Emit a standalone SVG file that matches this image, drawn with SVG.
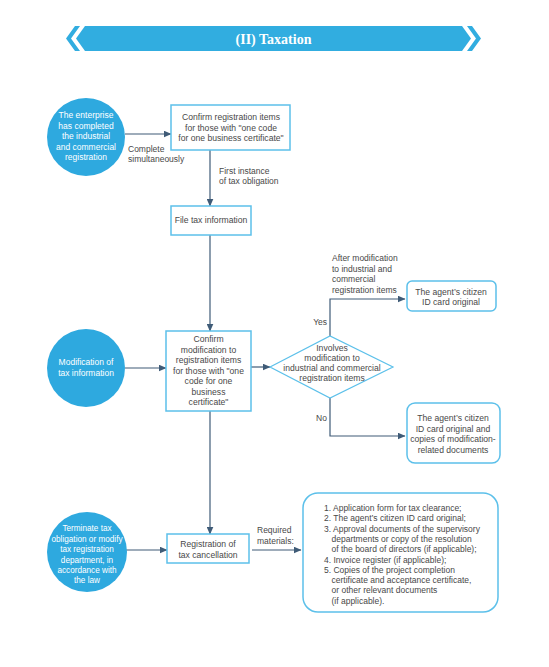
<svg xmlns="http://www.w3.org/2000/svg" width="549" height="667" viewBox="0 0 549 667">
<defs>
<marker id="arr" markerUnits="userSpaceOnUse" markerWidth="8" markerHeight="7" refX="7.5" refY="3.5" orient="auto">
<path d="M0,0 L8,3.5 L0,7 z" fill="#3f5b77"/>
</marker>
<style>
.t{font-family:"Liberation Sans",Arial,sans-serif;font-size:8.6px;fill:#484848;text-anchor:middle}
.tl{font-family:"Liberation Sans",Arial,sans-serif;font-size:8.5px;fill:#484848}
.w{font-family:"Liberation Sans",Arial,sans-serif;font-size:8.5px;fill:#fff;text-anchor:middle}
.circ{fill:#2ea9df}
.box{fill:#fff;stroke:#5cc0ea;stroke-width:1.5}
.c{fill:none;stroke:#3f5b77;stroke-width:1.2;marker-end:url(#arr)}
</style>
</defs>
<rect width="549" height="667" fill="#fff"/>
<g id="banner">
<polygon points="75,26 80,26 71,38.5 80,51 75,51 66,38.5" fill="#31ade0"/>
<polygon points="85,26 462,26 471,38.5 462,51 85,51 76,38.5" fill="#31ade0"/>
<polygon points="472,26 467,26 476,38.5 467,51 472,51 481,38.5" fill="#31ade0"/>
<text x="273.5" y="43.5" font-family="Liberation Serif,serif" font-size="14" font-weight="bold" fill="#fff" text-anchor="middle">(II) Taxation</text>
</g>
<g id="connectors">
<line class="c" x1="125" y1="134" x2="171" y2="134"/>
<line class="c" x1="210" y1="150" x2="210" y2="206"/>
<line class="c" x1="210" y1="235" x2="210" y2="331"/>
<line class="c" x1="125" y1="368" x2="166" y2="368"/>
<line class="c" x1="251" y1="367" x2="270" y2="367"/>
<path class="c" d="M330,336 V299 H405"/>
<path class="c" d="M330,398 V436 H405"/>
<line class="c" x1="210" y1="411" x2="210" y2="534"/>
<line class="c" x1="126" y1="550" x2="167" y2="550"/>
<line class="c" x1="252" y1="550" x2="301" y2="550" stroke-width="1.8"/>
<text class="tl" x="128" y="152">Complete</text>
<text class="tl" x="128" y="162">simultaneously</text>
<text class="tl" x="219" y="174">First instance</text>
<text class="tl" x="219" y="184">of tax obligation</text>
<text class="tl" x="332" y="261">After modification</text>
<text class="tl" x="332" y="271.5">to industrial and</text>
<text class="tl" x="332" y="282">commercial</text>
<text class="tl" x="332" y="292.5">registration items</text>
<text class="tl" x="327" y="325" text-anchor="end">Yes</text>
<text class="tl" x="316" y="421">No</text>
<text class="tl" x="257" y="533">Required</text>
<text class="tl" x="257" y="544">materials:</text>
</g>
<g id="n1">
<circle class="circ" cx="86" cy="137" r="39"/>
<text class="w" x="86" y="118">The enterprise</text>
<text class="w" x="86" y="128.5">has completed</text>
<text class="w" x="86" y="139">the industrial</text>
<text class="w" x="86" y="149.5">and commercial</text>
<text class="w" x="86" y="160">registration</text>
</g>
<g id="n2">
<rect class="box" x="171" y="105" width="119" height="45"/>
<text class="t" x="231" y="120">Confirm registration items</text>
<text class="t" x="231" y="130.5">for those with "one code</text>
<text class="t" x="231" y="141">for one business certificate"</text>
</g>
<g id="n3">
<rect class="box" x="171" y="206" width="80" height="29"/>
<text class="t" x="211" y="223">File tax information</text>
</g>
<g id="n4">
<circle class="circ" cx="86" cy="368" r="39"/>
<text class="w" x="86" y="365">Modification of</text>
<text class="w" x="86" y="375.5">tax information</text>
</g>
<g id="n5">
<rect class="box" x="166" y="331" width="85" height="80"/>
<text class="t" x="208.5" y="342">Confirm</text>
<text class="t" x="208.5" y="352.5">modification to</text>
<text class="t" x="208.5" y="363">registration items</text>
<text class="t" x="208.5" y="373.5">for those with "one</text>
<text class="t" x="208.5" y="384">code for one</text>
<text class="t" x="208.5" y="394.5">business</text>
<text class="t" x="208.5" y="405">certificate"</text>
</g>
<g id="n6">
<polygon points="270,367 330,336 393,367 330,398" fill="#fff" stroke="#5cc0ea" stroke-width="1.2"/>
<text class="t" x="332" y="351">Involves</text>
<text class="t" x="332" y="361">modification to</text>
<text class="t" x="332" y="370.5">industrial and commercial</text>
<text class="t" x="332" y="380.5">registration items</text>
</g>
<g id="n7">
<rect class="box" x="407" y="281" width="89" height="30" rx="5"/>
<text class="t" x="451" y="294.5">The agent’s citizen</text>
<text class="t" x="451" y="305">ID card original</text>
</g>
<g id="n8">
<rect class="box" x="407" y="403" width="93" height="60" rx="8"/>
<text class="t" x="453" y="421">The agent’s citizen</text>
<text class="t" x="453" y="431.5">ID card original and</text>
<text class="t" x="453" y="442">copies of modification-</text>
<text class="t" x="453" y="452.5">related documents</text>
</g>
<g id="n9">
<circle class="circ" cx="87" cy="552" r="40"/>
<text class="w" x="87" y="531" style="font-size:8.2px">Terminate tax</text>
<text class="w" x="87" y="541.5" style="font-size:8.2px">obligation or modify</text>
<text class="w" x="87" y="552" style="font-size:8.2px">tax registration</text>
<text class="w" x="87" y="562.5" style="font-size:8.2px">department, in</text>
<text class="w" x="87" y="573" style="font-size:8.2px">accordance with</text>
<text class="w" x="87" y="583" style="font-size:8.2px">the law</text>
</g>
<g id="n10">
<rect class="box" x="167" y="534" width="82" height="29"/>
<text class="t" x="208" y="547">Registration of</text>
<text class="t" x="208" y="557.5">tax cancellation</text>
</g>
<g id="n11">
<rect class="box" x="303" y="493" width="195" height="119" rx="15"/>
<text class="tl" x="324" y="511">1. Application form for tax clearance;</text>
<text class="tl" x="324" y="521.3">2. The agent’s citizen ID card original;</text>
<text class="tl" x="324" y="531.6">3. Approval documents of the supervisory</text>
<text class="tl" x="331.5" y="541.9">departments or copy of the resolution</text>
<text class="tl" x="331.5" y="552.2">of the board of directors (if applicable);</text>
<text class="tl" x="324" y="562.5">4. Invoice register (if applicable);</text>
<text class="tl" x="324" y="572.8">5. Copies of the project completion</text>
<text class="tl" x="331.5" y="583.1">certificate and acceptance certificate,</text>
<text class="tl" x="331.5" y="593.4">or other relevant documents</text>
<text class="tl" x="331.5" y="603.7">(if applicable).</text>
</g>
</svg>
